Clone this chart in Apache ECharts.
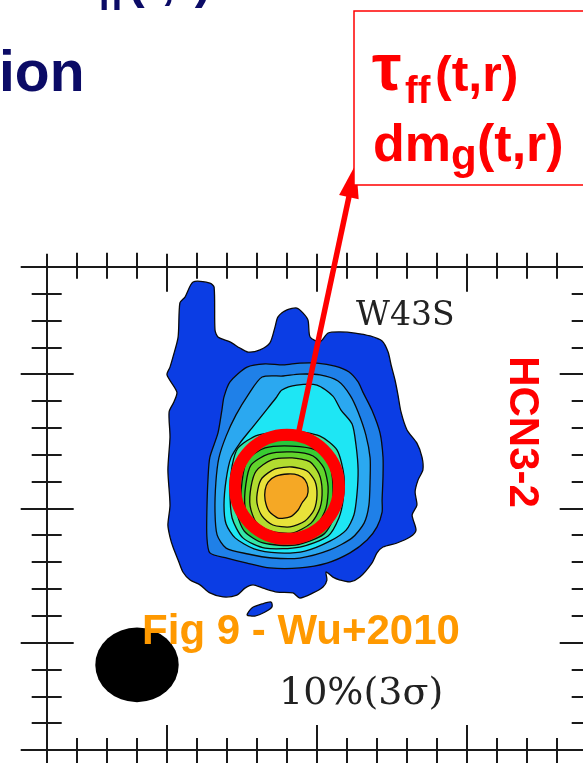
<!DOCTYPE html>
<html><head><meta charset="utf-8">
<script src="https://cdn.jsdelivr.net/npm/echarts@6/dist/echarts.min.js"></script>
<style>html,body{margin:0;padding:0;background:#fff;}#c{width:583px;height:763px;}</style>
</head><body><div id="c"></div>
<script>
// ---- map frame (offsets in units of the minor tick spacing) ----
const mapMin = 0, mapMax = 18;
const minorTicks = [1,2,3,5,6,7,8,10,11,12,13,15,16,17];
const majorTicks = [0,4,9,14,18];

// ---- HCN 3-2 contour rings, outermost (10%) to peak ----
const ring1 = [[4.61,1.13],[4.88,0.57],[5.44,0.61],[5.58,0.76],[5.61,2.36],[5.71,2.62],[6.11,2.80],[6.44,3.03],[6.71,3.18],[7.11,3.10],[7.44,2.84],[7.61,2.25],[7.71,1.87],[8.01,1.61],[8.34,1.54],[8.54,1.72],[8.71,1.99],[8.78,2.62],[9.11,2.80],[9.38,2.47],[9.78,2.43],[10.28,2.47],[10.78,2.58],[11.18,2.77],[11.38,3.18],[11.48,3.66],[11.61,4.22],[11.71,4.78],[11.81,5.41],[12.01,6.08],[12.34,6.57],[12.51,7.09],[12.54,7.57],[12.38,7.94],[12.28,8.39],[12.34,8.88],[12.18,9.25],[12.31,9.81],[12.11,10.07],[11.68,10.29],[11.21,10.44],[11.01,10.66],[10.84,11.04],[10.44,11.56],[10.11,11.74],[9.78,11.67],[9.54,11.56],[9.31,11.37],[9.34,11.67],[9.21,11.93],[8.88,12.15],[8.44,12.34],[8.21,12.15],[7.68,12.12],[7.21,11.97],[6.88,11.85],[6.61,11.97],[6.34,12.23],[5.88,12.30],[5.44,12.15],[5.11,11.85],[4.78,11.67],[4.54,11.37],[4.38,10.92],[4.21,10.44],[4.11,10.07],[4.04,9.62],[4.11,8.88],[4.04,7.57],[4.11,6.34],[4.08,5.41],[4.24,5.04],[4.34,4.67],[4.01,4.03],[4.11,3.74],[4.21,3.36],[4.38,2.62],[4.44,1.35]];
const ring1b = [[6.68,12.97],[6.84,12.71],[7.18,12.56],[7.48,12.49],[7.51,12.67],[7.28,12.86],[6.94,13.01]];
const ring2 = [[6.68,3.74],[7.28,3.62],[7.88,3.66],[8.44,3.59],[9.01,3.59],[9.61,3.70],[10.08,3.92],[10.38,4.29],[10.54,4.67],[10.84,5.34],[11.11,6.19],[11.21,7.09],[11.21,7.83],[11.18,8.69],[11.18,9.14],[11.01,9.69],[10.68,10.18],[10.11,10.66],[9.34,11.04],[8.44,11.22],[7.44,11.22],[6.68,11.04],[6.01,10.85],[5.44,10.66],[5.34,10.07],[5.34,9.06],[5.38,7.83],[5.44,7.09],[5.71,6.19],[5.84,5.34],[5.91,4.85],[6.11,4.29]];
const ring3 = [[7.18,4.11],[7.88,4.07],[8.44,4.00],[9.11,4.03],[9.71,4.26],[10.11,4.78],[10.38,5.41],[10.64,6.27],[10.78,7.12],[10.78,7.94],[10.74,8.88],[10.58,9.55],[10.18,10.10],[9.44,10.55],[8.44,10.85],[7.51,10.85],[6.71,10.70],[5.98,10.48],[5.68,9.99],[5.61,9.14],[5.64,8.02],[5.74,7.12],[5.98,6.31],[6.31,5.52],[6.71,4.78]];
const ring4 = [[7.84,4.59],[8.34,4.41],[9.01,4.41],[9.54,4.82],[9.81,5.34],[10.18,5.86],[10.31,6.64],[10.38,7.57],[10.34,8.50],[10.24,9.25],[9.98,9.81],[9.44,10.22],[8.61,10.59],[7.71,10.66],[6.91,10.51],[6.28,10.10],[5.98,9.58],[5.91,8.88],[5.98,7.94],[6.14,7.12],[6.44,6.57],[6.84,6.01],[7.24,5.45],[7.64,4.89]];
const ring5 = [[6.38,6.75],[7.04,6.27],[8.18,6.12],[9.11,6.31],[9.68,6.83],[9.91,7.80],[9.88,8.69],[9.74,9.36],[9.38,10.03],[8.44,10.44],[7.28,10.48],[6.54,10.10],[6.18,9.36],[6.11,8.32],[6.18,7.42]];
const ring6 = [[6.51,7.01],[7.18,6.53],[8.18,6.45],[9.04,6.60],[9.54,7.12],[9.71,8.09],[9.64,9.14],[9.24,9.96],[8.28,10.37],[7.21,10.29],[6.58,9.84],[6.31,9.02],[6.34,7.91]];
const ring7 = [[6.68,7.20],[7.28,6.75],[8.18,6.68],[8.98,6.83],[9.41,7.31],[9.54,8.13],[9.48,9.06],[9.11,9.81],[8.24,10.22],[7.28,10.14],[6.71,9.73],[6.48,8.99],[6.51,8.02]];
const ring8 = [[6.81,7.39],[7.38,6.98],[8.18,6.90],[8.88,7.05],[9.24,7.50],[9.38,8.20],[9.31,8.99],[8.98,9.66],[8.21,10.07],[7.34,9.99],[6.81,9.62],[6.61,8.95],[6.64,8.09]];
const ring9 = [[6.98,7.61],[7.48,7.20],[8.18,7.12],[8.78,7.27],[9.08,7.72],[9.18,8.32],[9.11,8.99],[8.81,9.55],[8.18,9.92],[7.44,9.84],[6.98,9.51],[6.78,8.91],[6.81,8.20]];
const ring10 = [[7.18,7.87],[7.61,7.53],[8.18,7.46],[8.68,7.61],[8.94,7.98],[9.01,8.50],[8.91,9.06],[8.61,9.47],[8.11,9.69],[7.54,9.62],[7.18,9.29],[7.01,8.80],[7.04,8.28]];
const ring11 = [[7.38,8.02],[7.64,7.80],[8.04,7.72],[8.38,7.76],[8.61,7.94],[8.71,8.24],[8.68,8.54],[8.51,8.80],[8.38,9.06],[8.11,9.32],[7.71,9.36],[7.41,9.10],[7.28,8.69],[7.28,8.32]];
const rings = [ring1, ring1b, ring2, ring3, ring4, ring5, ring6, ring7, ring8, ring9, ring10, ring11];
const ringLevel = [0, 0, 1, 2, 3, 4, 5, 6, 7, 8, 9, 10];

// beam (filled ellipse) and the highlighted core with its pointer
const beamCenter = [3.01, 14.83];
const beamRadius = 1.39;
const coreCenter = [8.01, 8.20];
const pointerTip = [10.31, -3.83];

// ---- styles ----
const levelColors = ['#0b3de4','#1f80e8','#2ba8f0','#1ee6f4','#34e6a8','#28c63c','#38cc32','#62d42c','#b2dc30','#e8e23a','#f5a825'];
const ink = '#1a1a1a';

function ax(dim, grid, pos, ticks, inside, len, line) {
  return {
    type: 'value', gridIndex: grid, position: pos, min: mapMin, max: mapMax,
    inverse: dim === 'y',
    axisLine: { show: line, onZero: false, lineStyle: { color: ink, width: 2 } },
    axisTick: { show: true, customValues: ticks, inside: inside, length: len, lineStyle: { color: ink, width: 2 } },
    axisLabel: { show: false }, splitLine: { show: false }, minorTick: { show: false }
  };
}
const layers = [
  { ticks: minorTicks, inside: true, xl: 12, yl: 15, line: true },
  { ticks: minorTicks, inside: false, xl: 14, yl: 15, line: false },
  { ticks: majorTicks, inside: true, xl: 25, yl: 27, line: false },
  { ticks: majorTicks, inside: false, xl: 13, yl: 26, line: false }
];
const grids = [], xAxes = [], yAxes = [];
layers.forEach((L, g) => {
  grids.push({ left: 46.7, top: 266.7, width: 540, height: 483.3, containLabel: false, outerBoundsMode: 'none' });
  xAxes.push(ax('x', g, 'bottom', L.ticks, L.inside, L.xl, L.line));
  xAxes.push(ax('x', g, 'top', L.ticks, L.inside, L.xl, L.line));
  yAxes.push(ax('y', g, 'left', L.ticks, L.inside, L.yl, L.line));
  yAxes.push(ax('y', g, 'right', L.ticks, L.inside, L.yl, L.line));
});

function txt(x, y, text, size, fill, family, align, extra) {
  return Object.assign({ type: 'text', x: x, y: y, z: 100, style: {
    text: text, font: 'bold ' + size + 'px ' + family, fill: fill,
    align: align, verticalAlign: 'middle', textAlign: align, textVerticalAlign: 'middle'
  } }, extra || {});
}
const sans = '"Liberation Sans", Arial, sans-serif';
const serif = '"DejaVu Serif", serif';
function serifTxt(x, y, text, size) {
  return { type: 'text', x: x, y: y, z: 100, style: { text: text, font: size + 'px ' + serif, fill: '#222',
    align: 'left', verticalAlign: 'middle', textAlign: 'left', textVerticalAlign: 'middle' } };
}
const navy = '#0b0b66', red = '#ff0000';

const chart = echarts.init(document.getElementById('c'), null, { renderer: 'canvas' });
chart.setOption({
  animation: false,
  backgroundColor: '#ffffff',
  grid: grids, xAxis: xAxes, yAxis: yAxes,
  series: [
    {
      type: 'custom', xAxisIndex: 0, yAxisIndex: 0, z: 2,
      data: rings.map((r, i) => [i, 0]),
      renderItem: function (params, api) {
        const ring = rings[params.dataIndex];
        return { type: 'polygon', shape: { points: ring.map(p => api.coord(p)), smooth: 0.25 },
          style: { fill: levelColors[ringLevel[params.dataIndex]], stroke: '#0a0a0a', lineWidth: 1.3 } };
      }
    },
    {
      type: 'custom', xAxisIndex: 0, yAxisIndex: 0, z: 3,
      data: [[beamCenter[0], beamCenter[1]]],
      renderItem: function (params, api) {
        const c = api.coord(beamCenter);
        const s = api.size([beamRadius, beamRadius]);
        return { type: 'circle', x: c[0], y: c[1], scaleX: s[0], scaleY: s[1], shape: { cx: 0, cy: 0, r: 1 }, style: { fill: '#000' } };
      }
    },
    {
      type: 'custom', xAxisIndex: 0, yAxisIndex: 0, z: 10, clip: false,
      data: [[coreCenter[0], coreCenter[1]]],
      renderItem: function (params, api) {
        const c = api.coord(coreCenter), t = api.coord(pointerTip);
        const dx = t[0] - c[0], dy = t[1] - c[1], L = Math.sqrt(dx * dx + dy * dy);
        const ux = dx / L, uy = dy / L, px = -uy, py = ux;
        const r = 52, head = 34, hw = 10;
        const bx = t[0] - ux * head, by = t[1] - uy * head;
        return { type: 'group', children: [
          { type: 'circle', shape: { cx: c[0], cy: c[1], r: r }, style: { fill: 'none', stroke: red, lineWidth: 12 } },
          { type: 'line', shape: { x1: c[0] + ux * r, y1: c[1] + uy * r, x2: bx + ux * 2, y2: by + uy * 2 }, style: { stroke: red, lineWidth: 5.5 } },
          { type: 'polygon', shape: { points: [[t[0], t[1]], [bx + px * hw, by + py * hw], [bx - px * hw, by - py * hw]] }, style: { fill: red } }
        ] };
      }
    }
  ],
  graphic: [
    txt(-1, 75.4, 'ion', 57, navy, sans, 'left'),
    txt(65, -19, 'τ', 66, navy, sans, 'left'),
    txt(98, -0.8, 'ff', 38, navy, sans, 'left'),
    txt(128, -15.5, '(t,r)', 50, navy, sans, 'left'),
    { type: 'rect', z: 99, shape: { x: 354, y: 11, width: 240, height: 174 }, style: { fill: '#fff', stroke: red, lineWidth: 1.5 } },
    txt(372, 72, 'τ', 66, red, sans, 'left'),
    txt(405, 92.7, 'ff', 38, red, sans, 'left'),
    txt(435, 77.5, '(t,r)', 50, red, sans, 'left'),
    txt(373, 146.8, 'dm', 52, red, sans, 'left'),
    txt(451, 157, 'g', 42, red, sans, 'left'),
    txt(477, 146.8, '(t,r)', 52, red, sans, 'left'),
    txt(522, 432, 'HCN3-2', 42, red, sans, 'center', { rotation: -Math.PI / 2 }),
    serifTxt(356, 316.5, 'W43S', 33),
    serifTxt(279, 694, '10%(3σ)', 38),
    txt(301, 632.3, 'Fig 9 - Wu+2010', 42, '#ff9900', sans, 'center')
  ]
});
</script></body></html>
